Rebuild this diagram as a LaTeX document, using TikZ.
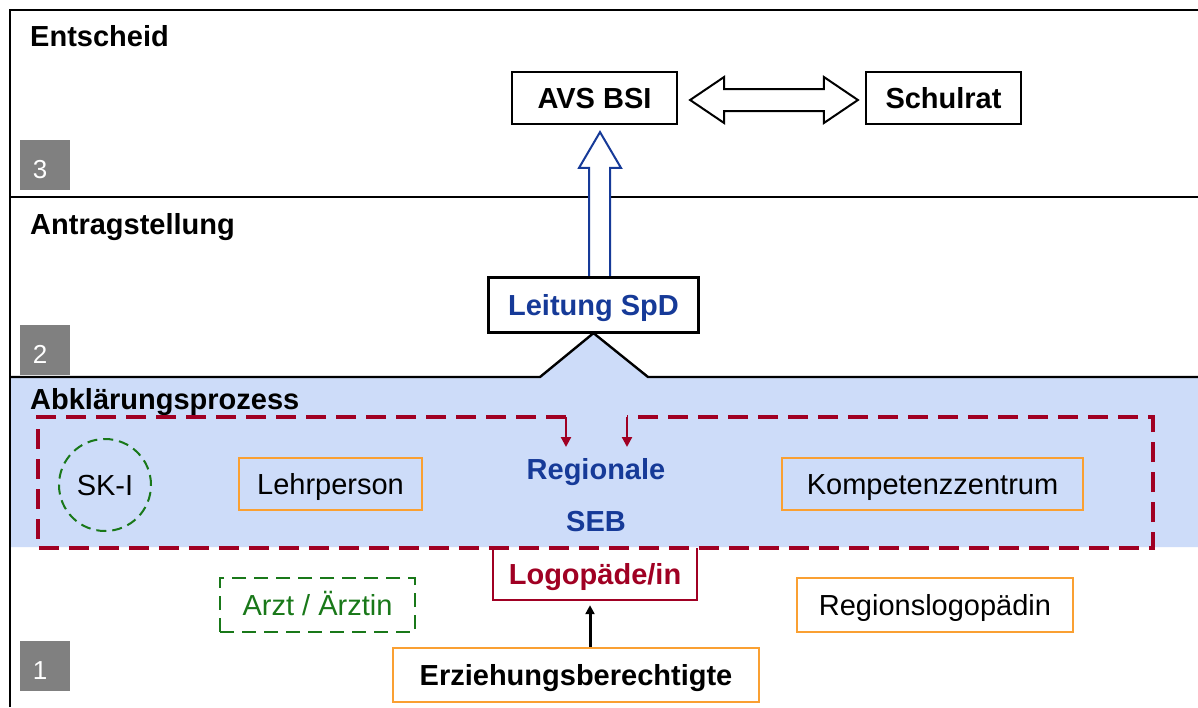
\documentclass[tikz,border=0pt]{standalone}
\usepackage{fontspec}
\setmainfont{Liberation Sans}
\usetikzlibrary{arrows.meta,calc}
\definecolor{bluefill}{RGB}{205,220,249}
\definecolor{darkblue}{RGB}{22,58,152}
\definecolor{redc}{RGB}{160,0,35}
\definecolor{greenc}{RGB}{25,120,25}
\definecolor{orangec}{RGB}{250,160,50}
\definecolor{greyc}{RGB}{128,128,128}
\begin{document}
\begin{tikzpicture}[x=1pt,y=-1pt,
  every node/.style={inner sep=0pt, font=\fontsize{29}{33}\selectfont, text height=21pt, text depth=0pt},
  frameline/.style={line width=2.4pt, black},
  blackbox/.style={draw=black, line width=2.2pt, fill=white},
  orangebox/.style={draw=orangec, line width=2.2pt},
  numbox/.style={fill=greyc, minimum width=50pt, minimum height=50pt},
  numtext/.style={text=white, font=\fontsize{26}{30}\selectfont, text height=19pt},
  seclabel/.style={anchor=base west, font=\bfseries\fontsize{29}{33}\selectfont, text height=, text depth=},
  reddash/.style={draw=redc, line width=4pt, dash pattern=on 20pt off 10pt},
  redarrow/.style={draw=redc, line width=2.2pt, -{Triangle[length=10pt,width=10pt]}},
  blackarrow/.style={draw=black, line width=3pt, -{Triangle[length=9pt,width=9pt]}}
]
\useasboundingbox (0,0) rectangle (1198,707);
\fill[white] (0,0) rectangle (1198,707);

% nodes
\node[blackbox, minimum width=165pt, minimum height=52pt, font=\bfseries\fontsize{29}{33}\selectfont] (avs) at (594.5,98) {AVS BSI};
\node[blackbox, minimum width=155pt, minimum height=52pt, font=\bfseries\fontsize{29}{33}\selectfont] (schul) at (943.5,98) {Schulrat};
\node[blackbox, minimum width=209pt, minimum height=54pt, text=darkblue, font=\bfseries\fontsize{29}{33}\selectfont] (leit) at (593.5,305) {Leitung SpD};

% blue band with bump
\fill[bluefill] (10,377) -- (540,377) -- (leit.south) -- (648,377) -- (1198,377) -- (1198,547) -- (10,547) -- cycle;

% frame lines
\draw[frameline] (10,707) -- (10,10) -- (1198,10);
\draw[frameline] (10,197) -- (1198,197);
\draw[frameline] (10,377) -- (540,377) -- (leit.south) -- (648,377) -- (1198,377);

% section labels
\node[seclabel] (l3) at (30,46) {Entscheid};
\node[seclabel] (l2) at (30,234) {Antragstellung};
\node[seclabel] (l1) at (30,409) {Abklärungsprozess};

% number boxes
\node[numbox] (n3) at (45,165) {};
\node[numtext] at ($(n3.center)+(-5,4)$) {3};
\node[numbox] (n2) at (45,350) {};
\node[numtext] at ($(n2.center)+(-5,4)$) {2};
\node[numbox] (n1) at (45,666) {};
\node[numtext] at ($(n1.center)+(-5,4)$) {1};

% double arrow between AVS and Schulrat
\draw[line width=2pt, fill=white]
  ($(avs.east)+(12,2)$) -- ($(avs.east)+(46,-21)$) -- ($(avs.east)+(46,-9)$)
  -- ($(schul.west)+(-41,-9)$) -- ($(schul.west)+(-41,-21)$) -- ($(schul.west)+(-7,2)$)
  -- ($(schul.west)+(-41,25)$) -- ($(schul.west)+(-41,13)$)
  -- ($(avs.east)+(46,13)$) -- ($(avs.east)+(46,25)$) -- cycle;

% block arrow from Leitung to AVS
\draw[darkblue, line width=2pt, fill=white]
  ($(leit.north)+(-4.5,0)$) -- ($(leit.north)+(-4.5,-109)$) -- ($(leit.north)+(-14.5,-109)$)
  -- ($(avs.south)+(5.5,7)$) -- ($(leit.north)+(27.5,-109)$) -- ($(leit.north)+(16.5,-109)$)
  -- ($(leit.north)+(16.5,0)$);
\draw[black, line width=2.2pt] (leit.north west) rectangle (leit.south east);

% Abklaerung nodes
\node[circle, draw=greenc, line width=2pt, dash pattern=on 10pt off 6pt, minimum size=92pt] (sk) at (105,485) {SK-I};
\node[orangebox, minimum width=183pt, minimum height=52pt] (lehr) at (330.5,484) {Lehrperson};
\node[orangebox, minimum width=301pt, minimum height=52pt] (komp) at (932.5,484) {Kompetenzzentrum};
\node[text=darkblue, font=\bfseries\fontsize{29}{33}\selectfont] (reg) at (596,469) {Regionale};
\node[text=darkblue, font=\bfseries\fontsize{29}{33}\selectfont] (seb) at (596,521) {SEB};

% red dashed frame with arrows
\coordinate (ra) at (566,417);
\coordinate (rb) at (627,417);
\draw[reddash] (ra) -- (38,417) -- (38,548) -- (1153,548) -- (1153,417) -- (rb);
\draw[redarrow] (ra) -- ($(ra)+(0,30)$);
\draw[redarrow] (rb) -- ($(rb)+(0,30)$);

% Logopaede box (open top)
\node[minimum width=204pt, minimum height=52pt, text=redc, font=\bfseries\fontsize{29}{33}\selectfont] (logo) at (595,574) {Logopäde/in};
\draw[redc, line width=2.2pt] (logo.north west) -- (logo.south west) -- (logo.south east) -- (logo.north east);

% lower nodes
\node[draw=greenc, line width=2.4pt, dash pattern=on 14pt off 8pt, text=greenc, minimum width=195pt, minimum height=54pt] (arzt) at (317.5,605) {Arzt / Ärztin};
\node[orangebox, minimum width=276pt, minimum height=54pt] (rlog) at (935,605) {Regionslogopädin};
\node[orangebox, minimum width=366pt, minimum height=54pt, font=\bfseries\fontsize{29}{33}\selectfont] (erz) at (576,675) {Erziehungsberechtigte};

\draw[blackarrow] ($(erz.north)+(14,0)$) -- ($(logo.south)+(-5,5)$);
\end{tikzpicture}
\end{document}
